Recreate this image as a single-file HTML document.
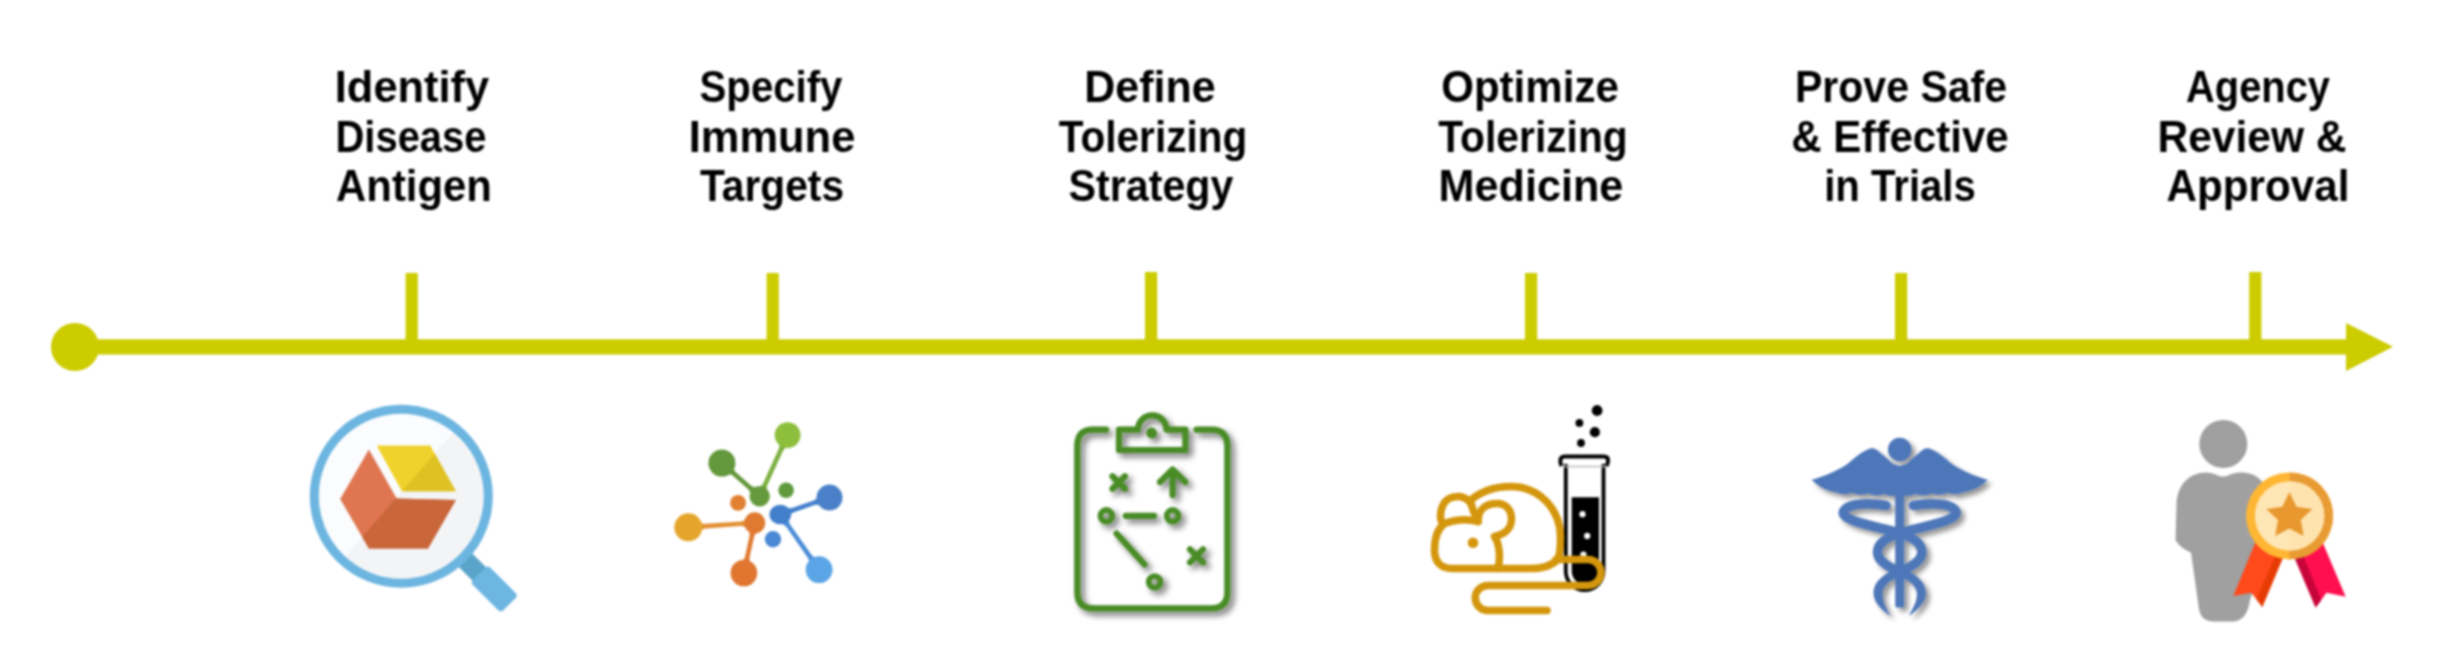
<!DOCTYPE html>
<html>
<head>
<meta charset="utf-8">
<style>
html,body{margin:0;padding:0;background:#fff;}
body{width:2438px;height:662px;position:relative;overflow:hidden;font-family:"Liberation Sans",sans-serif;}
svg.g{position:absolute;top:0;left:0;}
#wrap{position:absolute;top:0;left:0;width:2438px;height:662px;background:#fff;filter:blur(1.1px);}
.ln{position:absolute;font-weight:bold;font-size:44px;line-height:44px;color:#000;white-space:nowrap;transform-origin:50% 100%;}
</style>
</head>
<body>
<div id="wrap">
<svg class="g" width="2438" height="662" viewBox="0 0 2438 662">

  <g fill="#CCCC00">
    <circle cx="75" cy="347" r="24"/>
    <rect x="75" y="339.3" width="2275" height="15.2"/>
    <polygon points="2346,323 2393,346.8 2346,371"/>
    <rect x="405.6" y="273" width="12.2" height="70"/>
    <rect x="766.6" y="273" width="12.2" height="70"/>
    <rect x="1145" y="272" width="12.2" height="70"/>
    <rect x="1525" y="273" width="12.2" height="70"/>
    <rect x="1895" y="273" width="12.2" height="70"/>
    <rect x="2249.2" y="272" width="12.2" height="70"/>
  </g>


  <defs>
    <clipPath id="lensclip"><circle cx="401.3" cy="496.2" r="87.5"/></clipPath>
    <clipPath id="shadeclip"><polygon points="250,666 550,321 800,321 800,800 250,800"/></clipPath>
  </defs>
  <g transform="translate(401.3 496) rotate(45)"><rect x="80" y="-9.5" width="32" height="19" fill="#5AA4C9"/><rect x="110" y="-12.3" width="43" height="24.6" rx="4" fill="#6DB6E1"/></g>
  <circle cx="401.3" cy="496.2" r="87.5" fill="#FAFCFE"/>
  <g clip-path="url(#lensclip)"><polygon points="250,666 550,321 800,321 800,800 250,800" fill="#F3F4F6"/></g>
  <circle cx="401.3" cy="496.2" r="87" fill="none" stroke="#6CB5E0" stroke-width="9"/>
  <polygon points="368.9,449.6 340.2,499.1 368.9,548.6 428,548.6 455.8,500 396.7,498.5" fill="#E07651"/>
  <polygon points="376.7,445.6 430.2,445.6 455.8,491.3 401.9,491.3" fill="#F0D22C"/>
  <g clip-path="url(#shadeclip)">
    <polygon points="368.9,449.6 340.2,499.1 368.9,548.6 428,548.6 455.8,500 396.7,498.5" fill="#C9663A"/>
    <polygon points="376.7,445.6 430.2,445.6 455.8,491.3 401.9,491.3" fill="#DFC123"/>
  </g>


  <path d="M766.8,491.7 Q766.6,486.6 767.5,484.8 L782.9,451.0 Q783.7,449.2 787.9,445.2 L779.8,441.4 Q779.5,447.2 778.7,449.1 L763.3,482.9 Q762.5,484.7 758.6,487.9 Z" fill="#7BB03F"/>
  <path d="M757.3,488.2 Q752.4,486.9 750.9,485.5 L736.2,472.6 Q734.7,471.3 732.0,466.0 L726.0,472.7 Q731.7,474.7 733.2,476.0 L747.9,489.0 Q749.4,490.3 751.4,495.0 Z" fill="#64983C"/>
  <path d="M747.0,518.9 Q742.5,521.4 740.5,521.5 L705.6,523.8 Q703.6,524.0 697.8,522.2 L698.4,531.1 Q703.9,528.6 705.9,528.4 L740.8,526.1 Q742.8,526.0 747.6,527.9 Z" fill="#E39032"/>
  <path d="M748.7,529.2 Q749.9,534.2 749.5,536.2 L745.2,556.1 Q744.8,558.0 741.5,563.0 L750.3,564.8 Q749.3,559.0 749.7,557.1 L754.0,537.2 Q754.4,535.2 757.5,531.1 Z" fill="#E07A30"/>
  <path d="M788.6,516.4 Q792.2,512.8 794.1,512.2 L814.6,505.1 Q816.5,504.5 822.4,504.8 L819.4,496.3 Q815.0,500.1 813.1,500.8 L792.6,507.8 Q790.7,508.5 785.7,507.9 Z" fill="#4480CC"/>
  <path d="M780.8,523.0 Q785.2,525.5 786.4,527.1 L807.5,557.2 Q808.7,558.8 810.0,564.6 L817.4,559.4 Q812.4,556.2 811.3,554.6 L790.1,524.5 Q789.0,522.8 788.1,517.8 Z" fill="#4A8CD8"/>
  <circle cx="787.6" cy="435.1" r="12.9" fill="#8DBE3C"/>
  <circle cx="721.9" cy="463.1" r="13.5" fill="#64983C"/>
  <circle cx="759.7" cy="496.3" r="10.2" fill="#66993E"/>
  <circle cx="786.1" cy="490.2" r="7.8" fill="#5F9A3C"/>
  <circle cx="688.3" cy="527.3" r="14" fill="#E5A52B"/>
  <circle cx="754.7" cy="522.9" r="10.6" fill="#E07A30"/>
  <circle cx="743.9" cy="573" r="13.3" fill="#E07630"/>
  <circle cx="738.1" cy="502.9" r="7.9" fill="#E08030"/>
  <circle cx="829.5" cy="497.6" r="13" fill="#4A80C8"/>
  <ellipse cx="780.3" cy="514.5" rx="10.8" ry="9.8" fill="#4280CC"/>
  <circle cx="819.1" cy="569.7" r="13.4" fill="#5AA5E5"/>
  <circle cx="773" cy="539.3" r="8.2" fill="#4A88D4"/>


  <defs>
    <filter id="sh3" x="-20%" y="-20%" width="140%" height="140%">
      <feGaussianBlur in="SourceAlpha" stdDeviation="3.4"/>
      <feOffset dx="4" dy="4" result="b"/>
      <feComponentTransfer><feFuncA type="linear" slope="0.55"/></feComponentTransfer>
      <feMerge><feMergeNode/><feMergeNode in="SourceGraphic"/></feMerge>
    </filter>
  </defs>
  <g filter="url(#sh3)" fill="none" stroke="#488C26" stroke-width="6.2" stroke-linecap="round" stroke-linejoin="round">
    <path d="M1106,429.7 H1093 Q1077.3,429.7 1077.3,446 V592 Q1077.3,608.4 1094,608.4 H1211 Q1227.4,608.4 1227.4,592 V446 Q1227.4,429.7 1211,429.7 H1196.5"/>
    <path d="M1119,429.6 H1138 A14.2,14.2 0 0 1 1166.4,429.6 H1185.4 V450 H1119 Z"/>
    <path d="M1112.5,476.2 L1125,488.8 M1125,476.2 L1112.5,488.8"/>
    <path d="M1190,549.4 L1203,562.4 M1203,549.4 L1190,562.4"/>
    <path d="M1172.6,495 V470 M1160,482 L1172.6,469.5 L1185.2,482"/>
    <path d="M1125.8,515.8 H1154"/>
    <path d="M1116.5,533.5 L1144.5,564.5"/>
    <circle cx="1106.3" cy="515.8" r="5.8" stroke-width="5.8"/>
    <circle cx="1172.6" cy="515.8" r="5.8" stroke-width="5.8"/>
    <circle cx="1154.6" cy="581.9" r="5.8" stroke-width="5.8"/>
    <circle cx="1151.6" cy="433" r="5.4" fill="#488C26" stroke="none"/>
  </g>


  <g fill="#000">
    <circle cx="1597.1" cy="410.5" r="5.4"/>
    <circle cx="1579.4" cy="422.9" r="3.9"/>
    <circle cx="1594.9" cy="432.2" r="5.1"/>
    <circle cx="1581" cy="443" r="3.9"/>
  </g>
  <path d="M1565.8,464 V571.3 A18.85,18.85 0 0 0 1603.5,571.3 V464" fill="none" stroke="#000" stroke-width="3.8"/>
  <path d="M1561.5,466 Q1559.5,461 1561,458 Q1562,456.5 1565,456.5 H1603 Q1606.5,456.5 1607.5,458 Q1609,461 1606.5,466" fill="none" stroke="#000" stroke-width="4"/>
  <path d="M1563,466.5 H1605" stroke="#BDBDBD" stroke-width="1.5"/>
  <path d="M1571.7,497.2 H1599 V571 A13.65,13.65 0 0 1 1571.7,571 Z" fill="#000"/>
  <g fill="#fff">
    <circle cx="1582.5" cy="514.2" r="3.1"/>
    <circle cx="1587.2" cy="535.9" r="3.1"/>
    <circle cx="1583.4" cy="554.5" r="3.1"/>
  </g>
  <g fill="none" stroke="#D4960C" stroke-width="7.5" stroke-linecap="round" stroke-linejoin="round">
    <path d="M1471,500 C1483,490 1495,486.6 1510.8,486.6 C1540,486.6 1560.5,510 1560.5,537 C1560.5,548 1560,554 1558,559 Q1550,568.5 1530,568.5 H1452 C1440,568.5 1434.5,561 1434.5,550 C1434.5,538 1437,529 1444.6,523.5 Q1462,517 1478,521.5"/>
    <path d="M1443,524 C1439,519 1440.5,510 1443,505 C1446,499 1452,496.5 1458,496.5 C1466,496.5 1472,502 1473,510 L1478,521.5"/>
    <path d="M1478,521.5 C1478,509 1486,503.5 1497,503.5 C1506.5,503.5 1511.5,510.5 1511.5,519 C1511.5,529 1504,534.5 1494.5,536.5 C1499,543 1501,556 1498,568.5"/>
    <path d="M1556,559.5 H1588 A13,13 0 0 1 1588,585.5 H1487.7 A12.45,12.45 0 0 0 1487.7,610.4 H1547"/>
  </g>
  <circle cx="1473" cy="542.7" r="5.3" fill="#D4960C"/>


  <defs>
    <filter id="sh5" x="-20%" y="-20%" width="140%" height="140%">
      <feGaussianBlur in="SourceAlpha" stdDeviation="2.6"/>
      <feOffset dx="4" dy="4"/>
      <feComponentTransfer><feFuncA type="linear" slope="0.42"/></feComponentTransfer>
      <feMerge><feMergeNode/><feMergeNode in="SourceGraphic"/></feMerge>
    </filter>
  </defs>
  <g filter="url(#sh5)">
    <g fill="#4E77B9">
      <circle cx="1899.7" cy="449.5" r="11.8"/>
      <path d="M1899.7,466 L1892.7,463.8 C1888.0,459.0 1884.0,456.0 1881.0,453.5 C1877.0,449.0 1873.0,447.5 1870.0,448.5 C1862.0,451.0 1855.0,458.0 1846.0,465.0 C1835.0,472.0 1822.0,477.0 1811.6,479.8 C1817.0,485.5 1826.0,491.0 1836.0,492.3 Q1844.0,496.0 1851.9,492.8 Q1859.9,496.6 1867.8,493.4 Q1875.8,497.2 1883.7,494.0 Q1891.7,497.8 1899.6,494.6 Q1907.7,497.8 1915.7,494.0 Q1923.6,497.2 1931.6,493.4 Q1939.5,496.6 1947.5,492.8 Q1955.4,496.0 1963.4,492.3 C1973.4,491.0 1982.4,485.5 1987.8,479.8 C1977.4,477.0 1964.4,472.0 1953.4,465.0 C1944.4,458.0 1937.4,451.0 1929.4,448.5 C1926.4,447.5 1922.4,449.0 1918.4,453.5 C1915.4,456.0 1911.4,459.0 1906.7,463.8 Z"/>
      <rect x="1895.2" y="490" width="9" height="117.5" rx="2"/>
    </g>
    <g fill="none" stroke="#4E77B9" stroke-width="9.5" stroke-linecap="round">
      <path d="M1886,505.5 C1868,502.5 1847,503 1843.5,511.5 C1840,521 1876,526 1899.7,533 C1885,538 1877.5,544 1877.5,552 C1877.5,560 1886,566 1899.7,572"/>
      <path d="M 1913.4 505.5 C 1931.4 502.5 1952.4 503.0 1955.9 511.5 C 1959.4 521.0 1923.4 526.0 1899.7 533.0 C 1914.4 538.0 1921.9 544.0 1921.9 552.0 C 1921.9 560.0 1913.4 566.0 1899.7 572.0"/>
    </g>
    <g fill="#4E77B9">
      <path d="M1899.7,567 C1885,573 1873.5,581 1873.5,593 C1873.5,603 1882,610 1890.5,616 C1887,609 1882.5,602 1882.5,594 C1882.5,586 1890,580 1899.7,577 Z"/>
      <path d="M 1899.7 567.0 C 1914.4 573.0 1925.9 581.0 1925.9 593.0 C 1925.9 603.0 1917.4 610.0 1908.9 616.0 C 1912.4 609.0 1916.9 602.0 1916.9 594.0 C 1916.9 586.0 1909.4 580.0 1899.7 577.0 Z"/>
    </g>
  </g>


  <g fill="#A0A0A0">
    <circle cx="2223.3" cy="444" r="24"/>
    <path d="M2206,472.5 C2214,472.5 2218,476.6 2223,476.6 C2228,476.6 2232,472.5 2240,472.5 C2256,472.5 2264,480 2266,492 L2270,540 L2250,600 Q2247,621.5 2232,621.5 H2214 Q2200,621.5 2198.7,607 L2191,552.5 Q2180,548 2175.5,540 L2176.5,505 C2177,484 2190,472.5 2206,472.5 Z"/>
  </g>
  <polygon points="2258,536 2292,536 2262.3,606.9 2251.3,592.8 2233.3,596" fill="#FF4A1C"/>
  <polygon points="2280,545 2288.2,545 2262.3,606.9 2256.5,599" fill="#E63C04"/>
  <polygon points="2285.4,536 2319.9,536 2345.7,596.7 2326.5,592.8 2315.6,607.6" fill="#FF0F4F"/>
  <polygon points="2289.2,545 2298.8,545 2321.5,600 2315.6,607.6" fill="#C8053A"/>
  <circle cx="2289.6" cy="515.9" r="43.5" fill="#FFB632"/>
  <path d="M2289.6,472.4 A43.5,43.5 0 0 1 2289.6,559.4 Z" fill="#E89B32"/>
  <circle cx="2289.6" cy="515.9" r="34.7" fill="#FFE6B5"/>
  <path d="M2289.6,481.2 A34.7,34.7 0 0 1 2289.6,550.6 Z" fill="#FFE3AE"/>
  <polygon points="2289.4,492.1 2296.5,506.7 2312.5,508.9 2300.8,520.1 2303.7,536.1 2289.4,528.4 2275.1,536.1 2278.0,520.1 2266.3,508.9 2282.3,506.7" fill="#E8982F"/>

</svg>
<div class="ln" style="left:411.50px;top:108.90px;transform:translate(-50%,-100%) scaleX(0.9869)">Identify</div>
<div class="ln" style="left:411.00px;top:159.20px;transform:translate(-50%,-100%) scaleX(0.9074)">Disease</div>
<div class="ln" style="left:413.90px;top:208.40px;transform:translate(-50%,-100%) scaleX(0.9513)">Antigen</div>
<div class="ln" style="left:771.10px;top:108.90px;transform:translate(-50%,-100%) scaleX(0.9130)">Specify</div>
<div class="ln" style="left:772.00px;top:159.20px;transform:translate(-50%,-100%) scaleX(0.9884)">Immune</div>
<div class="ln" style="left:772.30px;top:208.40px;transform:translate(-50%,-100%) scaleX(0.9262)">Targets</div>
<div class="ln" style="left:1150.00px;top:108.90px;transform:translate(-50%,-100%) scaleX(0.9769)">Define</div>
<div class="ln" style="left:1153.10px;top:159.20px;transform:translate(-50%,-100%) scaleX(0.9209)">Tolerizing</div>
<div class="ln" style="left:1151.00px;top:208.40px;transform:translate(-50%,-100%) scaleX(0.9368)">Strategy</div>
<div class="ln" style="left:1530.00px;top:108.90px;transform:translate(-50%,-100%) scaleX(0.9560)">Optimize</div>
<div class="ln" style="left:1533.30px;top:159.20px;transform:translate(-50%,-100%) scaleX(0.9269)">Tolerizing</div>
<div class="ln" style="left:1530.60px;top:208.40px;transform:translate(-50%,-100%) scaleX(0.9814)">Medicine</div>
<div class="ln" style="left:1900.50px;top:108.90px;transform:translate(-50%,-100%) scaleX(0.9327)">Prove Safe</div>
<div class="ln" style="left:1899.90px;top:159.20px;transform:translate(-50%,-100%) scaleX(0.9558)">&amp; Effective</div>
<div class="ln" style="left:1899.70px;top:208.40px;transform:translate(-50%,-100%) scaleX(0.9118)">in Trials</div>
<div class="ln" style="left:2257.90px;top:108.90px;transform:translate(-50%,-100%) scaleX(0.9051)">Agency</div>
<div class="ln" style="left:2252.30px;top:159.20px;transform:translate(-50%,-100%) scaleX(0.9670)">Review &amp;</div>
<div class="ln" style="left:2257.80px;top:208.40px;transform:translate(-50%,-100%) scaleX(0.9592)">Approval</div>
</div>
</body>
</html>
